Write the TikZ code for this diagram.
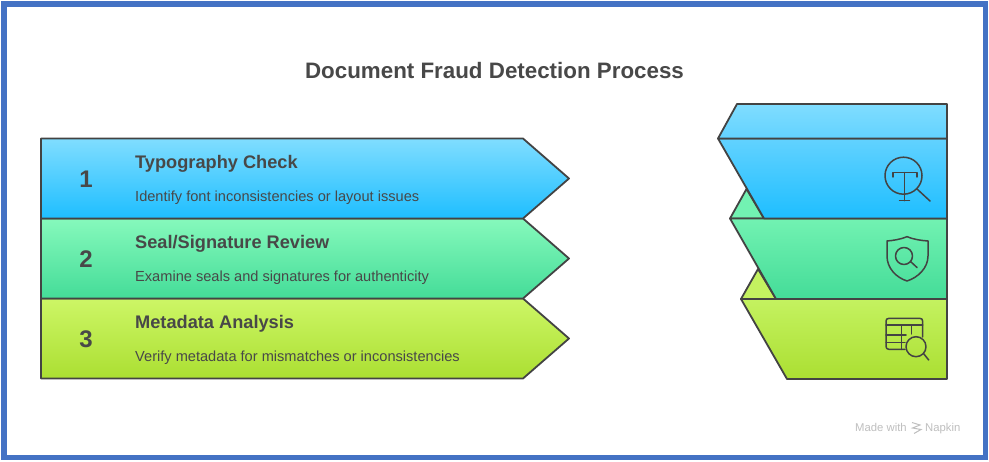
\documentclass[tikz,border=0pt]{standalone}
\usepackage{fontspec}
\setmainfont{Liberation Sans}
\definecolor{ink}{HTML}{434343}
\definecolor{txt}{HTML}{484848}
\definecolor{framec}{HTML}{4472C4}
\definecolor{blueA}{HTML}{80DDFF}
\definecolor{blueB}{HTML}{1EBEFF}
\definecolor{blueC}{HTML}{62D2FF}
\definecolor{greenA}{HTML}{86F9BC}
\definecolor{greenB}{HTML}{44DC98}
\definecolor{greenC}{HTML}{72F2B2}
\definecolor{limeA}{HTML}{CDF666}
\definecolor{limeB}{HTML}{ABDF32}
\definecolor{limeC}{HTML}{C4F260}
\tikzset{
  x=1pt,y=-1pt,
  band/.style={draw=ink,line width=1.8pt,line join=round},
  blueband/.style={band,top color=blueA,bottom color=blueB},
  greenband/.style={band,top color=greenA,bottom color=greenB},
  limeband/.style={band,top color=limeA,bottom color=limeB},
  icon/.style={draw=ink,line width=1.5pt,line cap=round,line join=round},
  heading/.style={anchor=base west,inner sep=0pt,text=txt,font=\bfseries\fontsize{18.2}{20}\selectfont},
  body/.style={anchor=base west,inner sep=0pt,text=txt,font=\fontsize{14.6}{16}\selectfont},
  numeral/.style={anchor=center,inner sep=0pt,text=txt,font=\bfseries\fontsize{24}{26}\selectfont},
  wmark/.style={anchor=base west,inner sep=0pt,text=black!25,font=\fontsize{11.3}{13}\selectfont},
}
\begin{document}
\begin{tikzpicture}
\useasboundingbox (0,0) rectangle (989,462);
\fill[white] (0,0) rectangle (989,462);
\draw[framec,line width=5.5pt] (3.8,3.8) rectangle (985.5,457.6);

% title
\node[anchor=center,inner sep=0pt,text=txt,font=\bfseries\fontsize{22.35}{24}\selectfont] (title) at (494.5,71) {Document Fraud Detection Process};

% left arrows
\path[limeband] (41,298.5) -- (523,298.5) -- (569,338.5) -- (523,378.5) -- (41,378.5) -- cycle;
\path[greenband] (41,218.5) -- (523,218.5) -- (569,258.5) -- (523,298.5) -- (41,298.5) -- cycle;
\path[blueband] (41,138.5) -- (523,138.5) -- (569,178.5) -- (523,218.5) -- (41,218.5) -- cycle;

\node[numeral] (n1) at (86,179.5) {1};
\node[numeral] (n2) at (86,259.5) {2};
\node[numeral] (n3) at (86,339.5) {3};

\node[heading] (h1) at (135,168.7) {Typography Check};
\node[heading] (h2) at (135,248.7) {Seal/Signature Review};
\node[heading] (h3) at (135,328.7) {Metadata Analysis};
\node[body] (b1) at (135,201.3) {Identify font inconsistencies or layout issues};
\node[body] (b2) at (135,281.3) {Examine seals and signatures for authenticity};
\node[body] (b3) at (135,361.3) {Verify metadata for mismatches or inconsistencies};

% right stack
\path[band,fill=limeC] (758,269) -- (741,299) -- (776,299) -- cycle;
\path[band,fill=greenC] (746.5,189) -- (730,218.5) -- (764,218.5) -- cycle;
\path[band,top color=limeC,bottom color=limeB] (741,299) -- (947,299) -- (947,379) -- (787,379) -- cycle;
\path[band,top color=greenC,bottom color=greenB] (730,218.5) -- (947,218.5) -- (947,299) -- (776,299) -- cycle;
\path[band,top color=blueC,bottom color=blueB] (718,138.5) -- (947,138.5) -- (947,218.5) -- (764,218.5) -- cycle;
\path[band,top color=blueA,bottom color=blueC] (737,104) -- (947,104) -- (947,138.5) -- (718,138.5) -- cycle;

% typography icon
\draw[icon] (903.5,175.7) circle[radius=18.5];
\draw[icon] (917,189) -- (930,201);
\draw[icon] (893,177) -- (893,172.7) -- (917,172.7) -- (917,177);
\draw[icon] (904.5,172.7) -- (904.5,200.7);
\draw[icon] (899.5,200.7) -- (909.5,200.7);

% shield icon
\draw[icon] (907,236.7) .. controls (914,239.5) and (921,240.5) .. (928,241)
  -- (928,256) .. controls (928,268) and (918,277.5) .. (907,281)
  .. controls (896,277.5) and (887,268) .. (887,256) -- (887,241)
  .. controls (893,240.5) and (900,239.5) .. (907,236.7) -- cycle;
\draw[icon] (904,256) circle[radius=8.5];
\draw[icon] (910.5,261.5) -- (917,267.5);

% table icon
\draw[icon] (905,349.3) -- (889,349.3) .. controls (887,349.3) and (886,348.3) .. (886,346.3)
  -- (886,321.3) .. controls (886,319.3) and (887,318.3) .. (889,318.3)
  -- (919.7,318.3) .. controls (921.7,318.3) and (922.7,319.3) .. (922.7,321.3) -- (922.7,337);
\draw[icon] (886,325) -- (922.7,325);
\draw[icon] (886,335) -- (906,335);
\draw[icon] (886,342.3) -- (905,342.3);
\draw[icon] (901.7,325) -- (901.7,349.3);
\draw[icon] (911.7,325) -- (911.7,334);
\draw[icon] (916,346.7) circle[radius=10];
\draw[icon] (923.5,353.5) -- (928.7,360);

% watermark
\node[wmark] (made) at (855,431.5) {Made with};
\node[wmark] (napkin) at (925,431.5) {Napkin};
\draw[black!25,line width=1pt] (912,422.5) -- (920,425) -- (912.5,428) -- (921,429.5) -- (914,433.5);
\end{tikzpicture}
\end{document}
